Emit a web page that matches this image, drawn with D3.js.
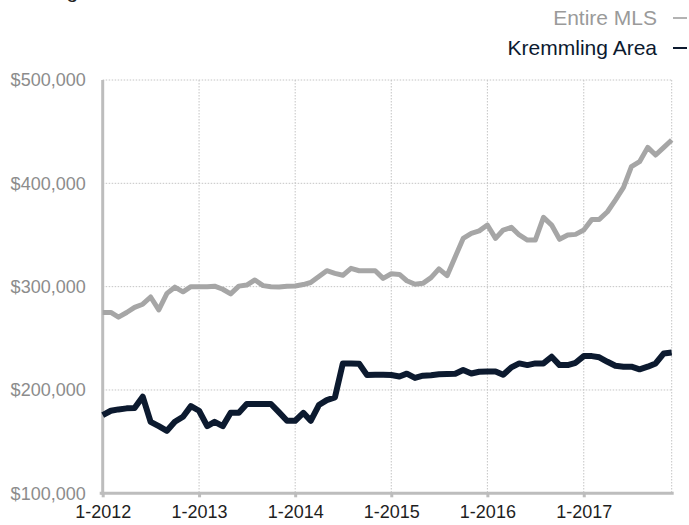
<!DOCTYPE html>
<html>
<head>
<meta charset="utf-8">
<script src="https://cdn.jsdelivr.net/npm/d3@7"></script>
<style>
  body { margin: 0; background: #fff; }
  svg text { font-family: "Helvetica Neue", Helvetica, Arial, "Liberation Sans", sans-serif; }
</style>
</head>
<body>
<script>
const w = 689;
const h = 525;

// monthly values, 1-2012 .. 12-2017
const startMonth = new Date(2012, 0, 1);
const entireMLS = [
    275000, 275000, 270500, 275000, 280000, 283000, 290000, 277500, 293500, 299500, 295000, 300000,
    300000, 300000, 300500, 297500, 293000, 300500, 301500, 306500, 301000, 300000, 299700, 300300,
    300600, 302000, 304000, 309800, 315400, 312900, 311000, 317700, 315400, 315400, 315400, 308000,
    312500, 311800, 305700, 302300, 303200, 308700, 317200, 310600, 329000, 346700, 351600, 354000,
    359600, 346700, 354800, 357400, 350000, 345100, 345100, 367100, 359600, 345800, 350000, 350600,
    354800, 365100, 365100, 372500, 383800, 396100, 416100, 420900, 434800, 427400, 434800, 441900
];
const kremmling = [
    175700, 179900, 181200, 182200, 182500, 193500, 169200, 165000, 160500, 169200, 174100, 184400,
    179900, 165000, 169200, 165000, 177900, 177900, 186400, 186400, 186400, 186400, 178300, 170200,
    170200, 177900, 170200, 185400, 190200, 192800, 225700, 225700, 225400, 214400, 214700, 214700,
    214500, 213100, 215800, 211700, 213800, 214300, 215200, 215400, 215700, 219300, 216000, 217600,
    217900, 217900, 214700, 221900, 225700, 224100, 225700, 225700, 232200, 224100, 224100, 226300,
    232800, 232800, 231600, 227300, 223500, 222500, 222500, 220000, 222500, 225700, 235400, 236300
];
const yTicks = [100000, 200000, 300000, 400000, 500000];
const xTickYears = [2012, 2013, 2014, 2015, 2016, 2017];
const seriesNames = ["Entire MLS", "Kremmling Area"];
const seriesColors = ["#a6a6a6", "#0c1a2f"];
const legendTextColors = ["#9a9a9a", "#0c1a2f"];
const title = "Rolling 12-Month Median Sales Price";

const months = entireMLS.map((d, i) => new Date(2012, i, 1));

const svg = d3.select("body")
    .append("svg")
    .attr("width", w)
    .attr("height", h)
    ;

const xScale = d3.scaleTime()
    .domain([startMonth, months[months.length - 1]])
    .range([102.7, 671.7])
    ;

const yScale = d3.scaleLinear()
    .domain([100000, 500000])
    .range([493.3, 80])
    ;

// title, mostly above the top edge (as in the cropped original)
svg.append("text")
    .attr("x", 14)
    .attr("y", -2)
    .attr("font-size", 21)
    .attr("fill", "#222")
    .text(title)
    ;

// grid
const grid = svg.append("g").attr("class", "grid");
grid.selectAll("line.hg")
    .data(yTicks.slice(1))
    .enter()
    .append("line")
    .attr("x1", xScale.range()[0])
    .attr("x2", xScale.range()[1])
    .attr("y1", d => yScale(d))
    .attr("y2", d => yScale(d))
    .attr("stroke", "#c4c4c4")
    .attr("stroke-width", 1)
    .attr("stroke-dasharray", "1.5,1.5")
    ;
const vGrid = xTickYears.slice(1).map(y => new Date(y, 0, 1)).concat([months[months.length - 1]]);
grid.selectAll("line.vg")
    .data(vGrid)
    .enter()
    .append("line")
    .attr("x1", d => xScale(d))
    .attr("x2", d => xScale(d))
    .attr("y1", yScale(500000))
    .attr("y2", yScale(100000))
    .attr("stroke", "#c4c4c4")
    .attr("stroke-width", 1)
    .attr("stroke-dasharray", "1.5,1.5")
    ;

// y axis
const yAxis = d3.axisLeft(yScale)
    .tickValues(yTicks)
    .tickFormat(d => "$" + d3.format(",")(d))
    .tickSize(0)
    .tickPadding(17)
    ;
const gy = svg.append("g")
    .attr("transform", "translate(" + xScale.range()[0] + ",0)")
    .call(yAxis)
    ;
gy.select(".domain").remove();
gy.selectAll("text")
    .attr("font-size", 18)
    .attr("fill", "#8c8c8c")
    .attr("font-family", null)
    ;

// x axis
const xAxis = d3.axisBottom(xScale)
    .tickValues(xTickYears.map(y => new Date(y, 0, 1)))
    .tickFormat(d3.timeFormat("1-%Y"))
    .tickSize(4)
    .tickPadding(8)
    ;
const gx = svg.append("g")
    .attr("transform", "translate(0," + yScale(100000) + ")")
    .call(xAxis)
    ;
gx.select(".domain").remove();
gx.selectAll("line").attr("stroke", "#bdbdbd").attr("stroke-width", 3);
gx.selectAll("text")
    .attr("font-size", 18)
    .attr("fill", "#1e1e1e")
    .attr("font-family", null)
    ;

// axis lines
svg.append("line")
    .attr("x1", xScale.range()[0])
    .attr("x2", xScale.range()[0])
    .attr("y1", yScale(500000))
    .attr("y2", yScale(100000) + 1.5)
    .attr("stroke", "#bdbdbd")
    .attr("stroke-width", 3)
    ;
svg.append("line")
    .attr("x1", xScale.range()[0] - 3)
    .attr("x2", xScale.range()[1] + 2)
    .attr("y1", yScale(100000))
    .attr("y2", yScale(100000))
    .attr("stroke", "#bdbdbd")
    .attr("stroke-width", 3)
    ;

// lines
const line = d3.line()
    .x((d, i) => xScale(months[i]))
    .y(d => yScale(d))
    ;
[entireMLS, kremmling].forEach((s, k) => {
    svg.append("path")
        .datum(s)
        .attr("d", line)
        .attr("fill", "none")
        .attr("stroke", seriesColors[k])
        .attr("stroke-width", k == 0 ? 5 : 6)
        .attr("stroke-linejoin", "round")
        ;
});

// legend
const legend = svg.append("g");
seriesNames.forEach((name, k) => {
    const y = 25 + k * 30;
    legend.append("text")
        .attr("x", 657)
        .attr("y", y)
        .attr("text-anchor", "end")
        .attr("font-size", 21)
        .attr("fill", legendTextColors[k])
        .text(name)
        ;
    legend.append("line")
        .attr("x1", 673)
        .attr("x2", 687)
        .attr("y1", y - 7)
        .attr("y2", y - 7)
        .attr("stroke", legendTextColors[k])
        .attr("stroke-width", k == 0 ? 1.5 : 2)
        ;
});
</script>
</body>
</html>
